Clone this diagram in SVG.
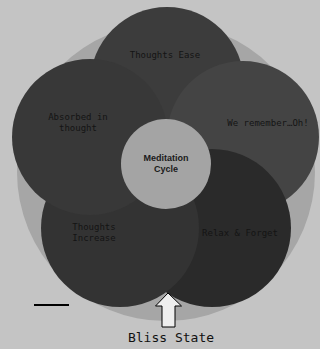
<svg xmlns="http://www.w3.org/2000/svg" width="320" height="349" viewBox="0 0 320 349">
<style>
.lbl{font-family:"DejaVu Sans Mono","Liberation Mono",monospace;font-size:9px;fill:#141414;text-anchor:middle}
.ctr{font-family:"Liberation Sans",Arial,sans-serif;font-size:9px;font-weight:bold;fill:#1a1a1a;text-anchor:middle}
</style>
<rect width="320" height="349" fill="#c4c4c4"/>
<circle cx="166" cy="172" r="149" fill="#a6a6a6"/>
<g id="thoughts-ease"><circle cx="167" cy="84" r="77" fill="#3c3c3c"/><text class="lbl" x="165" y="58">Thoughts Ease</text></g>
<g id="we-remember"><circle cx="243" cy="137" r="76" fill="#444444"/><text class="lbl" x="268" y="126">We remember…Oh!</text></g>
<g id="relax-forget"><circle cx="212" cy="228" r="79" fill="#2a2a2a"/><text class="lbl" x="240" y="236">Relax &amp; Forget</text></g>
<g id="thoughts-increase"><circle cx="120" cy="228" r="79" fill="#333333"/><text class="lbl" x="94" y="230">Thoughts</text><text class="lbl" x="94" y="241">Increase</text></g>
<g id="absorbed"><circle cx="90" cy="137" r="78" fill="#383838"/><text class="lbl" x="78" y="120">Absorbed in</text><text class="lbl" x="78" y="131">thought</text></g>
<g id="center"><circle cx="166" cy="164" r="45" fill="#a4a4a4"/><text class="ctr" x="166" y="161">Meditation</text><text class="ctr" x="166" y="172">Cycle</text></g>
<g id="connectors">
<line x1="34" y1="305" x2="69" y2="305" stroke="#000" stroke-width="2"/>
<polygon points="168,293 181.5,306 175,306 175,327 162,327 162,306 155.5,306" fill="#eeeeee" stroke="#000" stroke-width="1"/>
</g>
<text x="171" y="342" font-family="DejaVu Sans Mono,Liberation Mono,monospace" font-size="13" fill="#111" text-anchor="middle">Bliss State</text>
</svg>
